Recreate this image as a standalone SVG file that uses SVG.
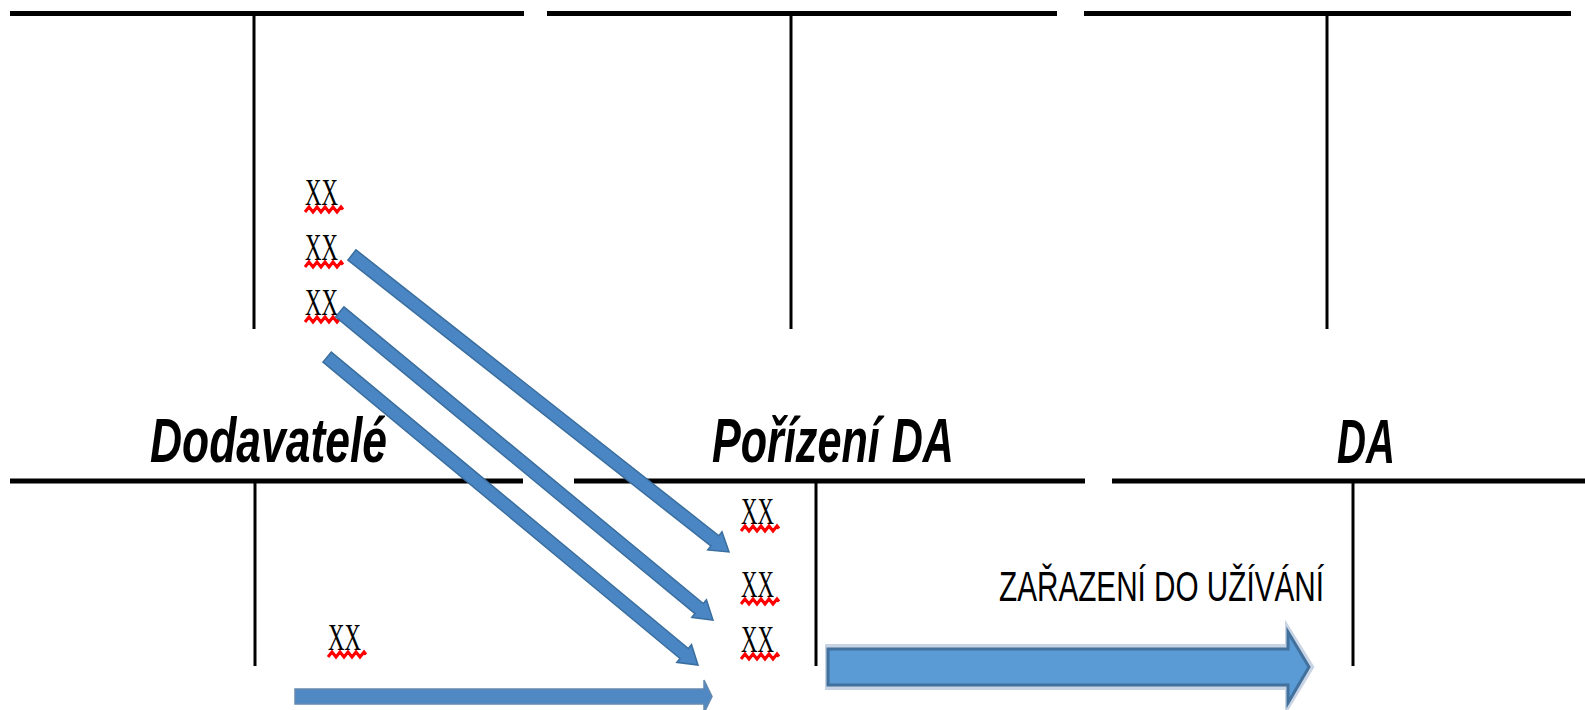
<svg xmlns="http://www.w3.org/2000/svg" xmlns:xlink="http://www.w3.org/1999/xlink" width="1585" height="710" viewBox="0 0 1585 710">
<style>
.hl{stroke:#000;stroke-width:5;fill:none}
.vl{stroke:#000;stroke-width:3;fill:none}
.title{font-family:"Liberation Sans",Arial,sans-serif;font-style:italic;font-weight:bold;font-size:63px;fill:#000}
.xx{font-family:"Liberation Serif","Times New Roman",serif;font-size:37px;fill:#000}
.lbl{font-family:"Liberation Sans",Arial,sans-serif;font-size:42px;fill:#000}
.darr{fill:#4A86C4;stroke:#3A6E9E;stroke-width:1.5}
.sq{fill:none;stroke:#FF0000;stroke-width:3}
</style>
<defs>
<path id="squig" class="sq" d="M0,6 l4,-5 l4,5 l4,-5 l4,5 l4,-5 l4,5 l4,-5 l4,5 l4,-5 l2,2.5"/>
</defs>
<rect width="1585" height="710" fill="#fff"/>
<g id="account-top-left">
<line class="hl" x1="10" y1="13.5" x2="524" y2="13.5"/>
<line class="vl" x1="254" y1="16" x2="254" y2="329"/>
</g>
<g id="account-top-mid">
<line class="hl" x1="547" y1="13.5" x2="1057" y2="13.5"/>
<line class="vl" x1="791" y1="16" x2="791" y2="329"/>
</g>
<g id="account-top-right">
<line class="hl" x1="1084" y1="13.5" x2="1571" y2="13.5"/>
<line class="vl" x1="1327" y1="16" x2="1327" y2="329"/>
</g>
<g id="account-dodavatele">
<text class="title" x="150" y="462" textLength="237" lengthAdjust="spacingAndGlyphs">Dodavatelé</text>
<line class="hl" x1="10" y1="481" x2="523" y2="481"/>
<line class="vl" x1="255" y1="483" x2="255" y2="666"/>
</g>
<g id="account-porizeni">
<text class="title" x="712" y="462" textLength="242" lengthAdjust="spacingAndGlyphs">Pořízení DA</text>
<line class="hl" x1="574" y1="481" x2="1085" y2="481"/>
<line class="vl" x1="816" y1="483" x2="816" y2="666"/>
</g>
<g id="account-da">
<text class="title" x="1337" y="463" textLength="58" lengthAdjust="spacingAndGlyphs">DA</text>
<line class="hl" x1="1112" y1="481" x2="1585" y2="481"/>
<line class="vl" x1="1353" y1="483" x2="1353" y2="666"/>
</g>
<g id="entries">
<text class="xx" x="305" y="205" textLength="33" lengthAdjust="spacingAndGlyphs">XX</text>
<use xlink:href="#squig" x="305" y="206"/>
<text class="xx" x="305" y="260" textLength="33" lengthAdjust="spacingAndGlyphs">XX</text>
<use xlink:href="#squig" x="305" y="261"/>
<text class="xx" x="305" y="315" textLength="33" lengthAdjust="spacingAndGlyphs">XX</text>
<use xlink:href="#squig" x="305" y="316"/>
<text class="xx" x="328" y="650" textLength="33" lengthAdjust="spacingAndGlyphs">XX</text>
<use xlink:href="#squig" x="328" y="651"/>
<text class="xx" x="741" y="524" textLength="33" lengthAdjust="spacingAndGlyphs">XX</text>
<use xlink:href="#squig" x="741" y="525"/>
<text class="xx" x="741" y="597" textLength="33" lengthAdjust="spacingAndGlyphs">XX</text>
<use xlink:href="#squig" x="741" y="598"/>
<text class="xx" x="741" y="652" textLength="33" lengthAdjust="spacingAndGlyphs">XX</text>
<use xlink:href="#squig" x="741" y="653"/>
<text class="lbl" x="999" y="601" textLength="325" lengthAdjust="spacingAndGlyphs">ZAŘAZENÍ DO UŽÍVÁNÍ</text>
</g>
<g id="connectors">
<path class="darr" transform="translate(729,552) rotate(38.23)" d="M-480,-6.5 L-18,-6.5 L-18,-11.5 L0,0 L-18,11.5 L-18,6.5 L-480,6.5 Z"/>
<path class="darr" transform="translate(713,620) rotate(39.55)" d="M-484,-6.5 L-18,-6.5 L-18,-11.5 L0,0 L-18,11.5 L-18,6.5 L-484,6.5 Z"/>
<path class="darr" transform="translate(698,665) rotate(39.7)" d="M-482,-6.5 L-18,-6.5 L-18,-11.5 L0,0 L-18,11.5 L-18,6.5 L-482,6.5 Z"/>
<path d="M295,689 L704,689 L704,680 L712,696.5 L704,713 L704,704 L295,704 Z" fill="#5088C4" stroke="#6489AE" stroke-width="1.5"/>
<path d="M828,647 L1288,647 L1288,630 L1311,667 L1288,705 L1288,687 L828,687 Z" fill="none" stroke="#C8D4E3" stroke-width="6"/>
<path d="M828,649 L1288,649 L1288,632 L1309,667 L1288,703 L1288,685 L828,685 Z" fill="#5B9BD5" stroke="#41719C" stroke-width="3"/>
</g>
</svg>
